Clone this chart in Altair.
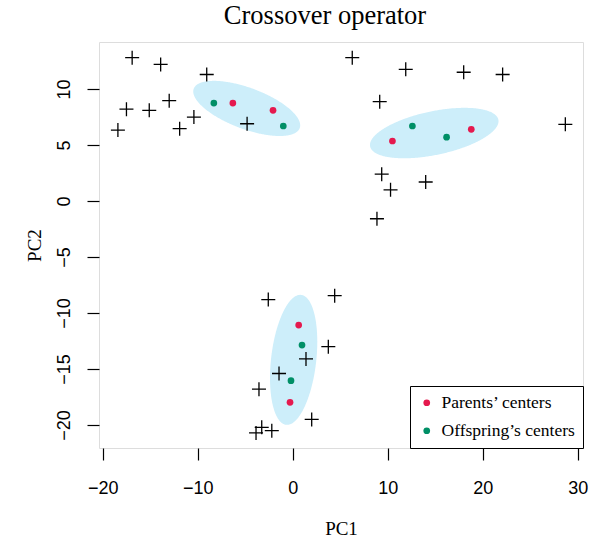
import altair as alt
import numpy as np
import pandas as pd

# Individuals (crosses) on the first two principal components
cross_pc1 = [-16.9, -13.9, -9.05, -17.5, -15.1, -13.0, -18.4, -11.9, -10.4, -4.8,
             6.27, 11.9, 18.0, 22.1, 9.16, 28.7, 9.37, 10.3, 14.0, 8.87,
             -2.57, 4.42, 3.75, 1.4, -1.44, -3.55, 2.0, -3.86, -3.26, -2.2]
cross_pc2 = [12.8, 12.2, 11.3, 8.2, 8.1, 8.96, 6.34, 6.46, 7.5, 6.9,
             12.8, 11.76, 11.5, 11.3, 8.87, 6.85, 2.4, 1.0, 1.7, -1.58,
             -8.8, -8.45, -13.0, -14.1, -15.4, -16.8, -19.5, -20.7, -20.2, -20.5]

# Cluster centers of the parents and of the offspring
parent_pc1 = [-6.3, -2.07, 10.5, 18.8, 0.63, -0.28]
parent_pc2 = [8.75, 8.1, 5.36, 6.4, -11.07, -17.97]
offspring_pc1 = [-8.3, -0.99, 12.6, 16.2, 0.98, -0.18]
offspring_pc2 = [8.75, 6.7, 6.7, 5.7, -12.86, -16.04]

# Shaded regions: center and two conjugate semi-diameters (data units)
ell_cx = [-4.84, 14.9, 0.1]
ell_cy = [8.27, 6.07, -14.18]
ell_ux = [5.59, 6.75, 0.79]
ell_uy = [-1.27, 1.196, 5.80]
ell_vx = [-0.667, 0.47, 2.36]
ell_vy = [2.11, -1.91, -0.232]

legend_labels = ["Parents\u2019 centers", "Offspring\u2019s centers"]
legend_colors = ["#e5194e", "#008f66"]

x_ticks = [-20, -10, 0, 10, 20, 30]
y_ticks = [-20, -15, -10, -5, 0, 5, 10]

# Ellipse outlines as upper/lower bands over PC1
rows = []
s = np.linspace(0, np.pi, 181)
for k in range(len(ell_cx)):
    R = np.hypot(ell_ux[k], ell_vx[k])
    phi = np.arctan2(ell_vx[k], ell_ux[k])
    t1, t2 = phi + s, phi - s
    xs = ell_cx[k] + R * np.cos(s)
    ya = ell_cy[k] + ell_uy[k] * np.cos(t1) + ell_vy[k] * np.sin(t1)
    yb = ell_cy[k] + ell_uy[k] * np.cos(t2) + ell_vy[k] * np.sin(t2)
    for xv, a, b in zip(xs, ya, yb):
        rows.append({"g": k, "x": xv, "lo": min(a, b), "hi": max(a, b)})
ell_df = pd.DataFrame(rows)

cross_df = pd.DataFrame({"PC1": cross_pc1, "PC2": cross_pc2})
centers_df = pd.DataFrame({
    "PC1": parent_pc1 + offspring_pc1,
    "PC2": parent_pc2 + offspring_pc2,
    "kind": [legend_labels[0]] * len(parent_pc1) + [legend_labels[1]] * len(offspring_pc1),
})

xscale = alt.Scale(domain=[-20.39, 30.56], nice=False, zero=False)
yscale = alt.Scale(domain=[-22.05, 14.2], nice=False, zero=False)

xaxis = alt.Axis(values=x_ticks, title="PC1", grid=False, domain=False,
                 tickSize=12, tickColor="black", tickWidth=1.2,
                 labelFont="Liberation Sans", labelFontSize=18, labelColor="black",
                 labelPadding=19, labelFlush=False,
                 titleFont="Liberation Serif", titleFontSize=19, titleFontWeight="normal",
                 titleColor="black", titleX=242, titleY=86, titleBaseline="alphabetic")
yaxis = alt.Axis(values=y_ticks, title="PC2", grid=False, domain=False,
                 tickSize=12, tickColor="black", tickWidth=1.2,
                 labelFont="Liberation Sans", labelFontSize=18, labelColor="black",
                 labelAngle=270, labelAlign="center", labelBaseline="alphabetic",
                 labelPadding=18, labelFlush=False,
                 titleFont="Liberation Serif", titleFontSize=19, titleFontWeight="normal",
                 titleColor="black", titleAngle=270, titleX=-59, titleY=203,
                 titleAlign="center", titleBaseline="alphabetic")

ellipses = alt.Chart(ell_df).mark_area(color="#cdeefa", opacity=1).encode(
    x=alt.X("x:Q", scale=xscale, axis=xaxis),
    y=alt.Y("lo:Q", scale=yscale, axis=yaxis),
    y2="hi:Q",
    detail="g:N",
)

crosses = alt.Chart(cross_df).mark_point(
    shape="M-1,0H1M0,-1V1", filled=False, stroke="black", strokeWidth=1.3,
    size=196, opacity=1,
).encode(x="PC1:Q", y="PC2:Q")

centers = alt.Chart(centers_df).mark_circle(size=45, opacity=1).encode(
    x="PC1:Q",
    y="PC2:Q",
    color=alt.Color("kind:N",
                    scale=alt.Scale(domain=legend_labels, range=legend_colors),
                    legend=alt.Legend(orient="bottom-right", offset=0, title=None,
                                      fillColor="white", strokeColor="black",
                                      padding=8, rowPadding=9,
                                      labelFont="Liberation Serif", labelFontSize=17.5,
                                      labelColor="black", labelOffset=6, labelLimit=400,
                                      symbolType="circle", symbolSize=45,
                                      symbolStrokeWidth=0)),
)

chart = alt.layer(ellipses, crosses, centers).properties(
    width=484,
    height=406,
    autosize="none",
    padding={"left": 99, "top": 42, "right": 9, "bottom": 89},
    title=alt.TitleParams("Crossover operator", font="Liberation Serif", fontSize=26.5,
                          fontWeight="normal", color="black", anchor="middle",
                          baseline="alphabetic", offset=16, dy=24, dx=-16),
).configure_view(stroke="black", strokeWidth=1.2).configure(background="white")

chart.save("out.html", embed_options={"renderer": "svg", "actions": False})
